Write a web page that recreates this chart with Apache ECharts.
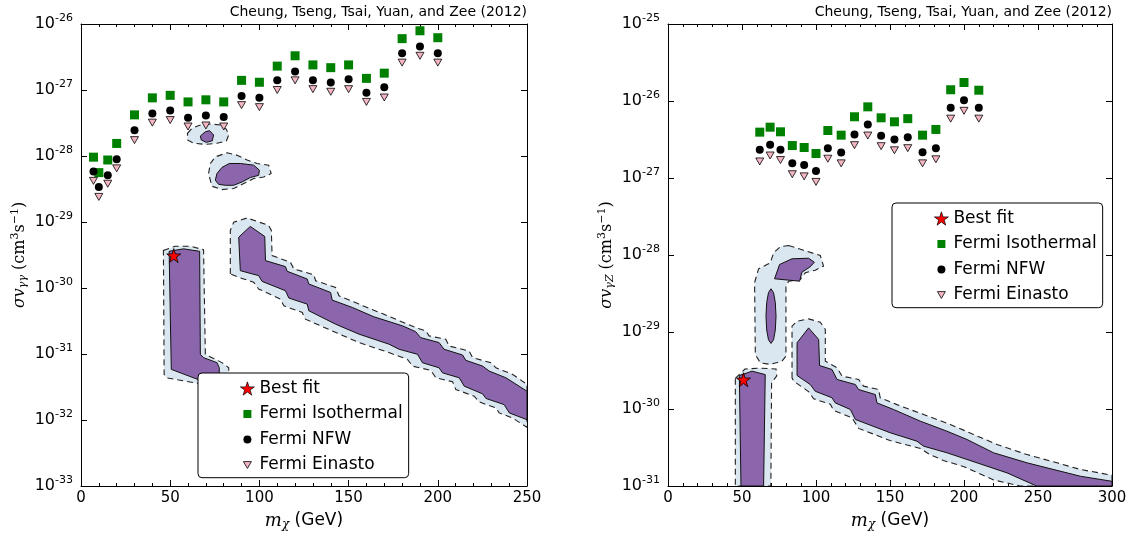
<!DOCTYPE html>
<html><head><meta charset="utf-8">
<script src="https://cdn.jsdelivr.net/npm/echarts@6/dist/echarts.min.js"></script>
<style>html,body{margin:0;padding:0;background:#fff}#c{width:1133px;height:536px}#err{position:absolute;left:300px;top:100px;font:12px monospace;color:red;width:700px;white-space:pre-wrap}</style>
</head><body><div id="c"></div><div id="err"></div>
<script>
window.onerror = function(m, s, l, c, e){ document.getElementById('err').textContent += m + ' @' + l + ':' + c + '\n'; };
const titleText = 'Cheung, Tseng, Tsai, Yuan, and Zee (2012)';
const legendNames = ['Best fit', 'Fermi Isothermal', 'Fermi NFW', 'Fermi Einasto'];

// ---------- Left panel (gamma gamma) ----------
const massL = [7,10,15,20,30,40,50,60,70,80,90,100,110,120,130,140,150,160,170,180,190,200];
const isoL = [9.6e-29,5.6e-29,8.7e-29,1.55e-28,4.2e-28,7.6e-28,8.3e-28,6.6e-28,7.1e-28,6.6e-28,1.4e-27,1.31e-27,2.3e-27,3.3e-27,2.4e-27,2.18e-27,2.4e-27,1.5e-27,1.8e-27,6.0e-27,7.9e-27,6.2e-27];
const nfwL = [5.8e-29,3.4e-29,5.1e-29,8.9e-29,2.46e-28,4.4e-28,4.9e-28,3.8e-28,4.1e-28,3.9e-28,8.1e-28,7.6e-28,1.4e-27,1.9e-27,1.4e-27,1.3e-27,1.45e-27,9.1e-28,1.1e-27,3.6e-27,4.55e-27,3.6e-27];
const einL = [4.2e-29,2.4e-29,3.8e-29,6.5e-29,1.74e-28,3.2e-28,3.5e-28,2.8e-28,2.9e-28,2.8e-28,5.9e-28,5.5e-28,1.0e-27,1.4e-27,1.03e-27,9.4e-28,1.03e-27,6.6e-28,7.7e-28,2.6e-27,3.3e-27,2.6e-27];
const bestL = [52, 3.1e-30];
const yExpLabelsL = ['-33','-32','-31','-30','-29','-28','-27','-26'];

const outerL = [
  [[59.7,2.21e-28],[62.2,2.63e-28],[66.9,2.95e-28],[72.5,3.06e-28],[78.1,2.95e-28],[81.5,2.54e-28],[82.8,2.08e-28],[81.5,1.69e-28],[76.2,1.56e-28],[69.7,1.5e-28],[63.1,1.56e-28],[59.7,1.75e-28]],
  [[71.5,5.43e-29],[72.5,7.7e-29],[75.3,9.7e-29],[81.9,1.12e-28],[87.5,1.03e-28],[93.1,8.7e-29],[98.7,7.7e-29],[105.2,7.27e-29],[106.6,5.43e-29],[102.4,4.8e-29],[96.8,4.56e-29],[91.2,3.83e-29],[85.6,3.21e-29],[79.0,3.1e-29],[73.4,3.48e-29]],
  [[46.2,3.7e-30],[52.8,4.3e-30],[61.2,4.3e-30],[68.7,3.8e-30],[69.7,9.9e-32],[73.4,8.8e-32],[79,7.4e-32],[82.8,6.2e-32],[82.8,3.0e-32],[64,3.65e-32],[48.1,4.35e-32],[46.6,4.9e-32]],
  [[83.7,1.63e-30],[83.7,7.44e-30],[85.6,9.95e-30],[93.1,1.15e-29],[105.2,8.87e-30],[106.7,7.44e-30],[107.1,3.1e-30],[117.4,2.45e-30],[119.3,1.95e-30],[130.5,1.59e-30],[131.5,1.29e-30],[142.7,1.02e-30],[144.6,7.63e-31],[155.8,5.7e-31],[168.9,4.1e-31],[187.6,2.51e-31],[193.3,2.24e-31],[195.1,1.88e-31],[204.5,1.67e-31],[206.3,1.32e-31],[217.6,1.11e-31],[219.5,8.8e-32],[229.8,7.38e-32],[232.6,6.18e-32],[242.0,4.9e-32],[250,3.46e-32],[250,7.74e-33],[242.0,1.07e-32],[234.4,1.28e-32],[232.6,1.52e-32],[223.2,1.88e-32],[220.4,2.3e-32],[210.1,2.9e-32],[208.3,3.79e-32],[198.9,4.36e-32],[196.1,5.65e-32],[185.8,6.56e-32],[183.0,8.3e-32],[172.6,1.05e-31],[155.8,1.49e-31],[140.8,2.24e-31],[125.8,3.37e-31],[124.0,4.26e-31],[113.7,5.38e-31],[111.8,6.8e-31],[99.6,9.66e-31],[96.8,1.22e-30],[88.4,1.45e-30]]
];
const innerL = [
  [[66.9,2.01e-28],[69.7,2.33e-28],[72.1,2.42e-28],[74.3,2.08e-28],[73.6,1.7e-28],[70.2,1.61e-28],[67.4,1.75e-28]],
  [[75.3,4.3e-29],[76.2,5.43e-29],[79.0,6.7e-29],[83.1,7.7e-29],[89.3,7.7e-29],[96.8,7.27e-29],[100.0,6.1e-29],[99.6,5.1e-29],[94.9,4.72e-29],[90.3,4.05e-29],[85.6,3.6e-29],[80.9,3.6e-29],[77.1,3.73e-29]],
  [[49.4,3.6e-30],[57.5,3.92e-30],[66.5,3.6e-30],[66.9,9.9e-32],[68.7,8.8e-32],[76.2,7.4e-32],[77.5,6.2e-32],[77.5,3.1e-32],[50.6,5.85e-32]],
  [[89.3,1.83e-30],[88.4,5.89e-30],[94.9,8.57e-30],[103.0,6.04e-30],[103.4,2.6e-30],[114.6,2.11e-30],[115.6,1.79e-30],[126.8,1.37e-30],[127.7,1.15e-30],[139.9,8.57e-31],[140.8,6.56e-31],[152.1,5.07e-31],[164.2,3.66e-31],[180.2,2.67e-31],[187.6,2.18e-31],[190.4,1.77e-31],[200.7,1.49e-31],[203.5,1.18e-31],[213.9,9.66e-32],[215.7,8.02e-32],[225.1,6.56e-32],[228.8,5.51e-32],[238.2,4.36e-32],[250,2.73e-32],[250,1.01e-32],[240.1,1.28e-32],[237.2,1.71e-32],[227.0,2.12e-32],[225.1,2.49e-32],[214.8,3.26e-32],[212.0,4.36e-32],[202.6,5.19e-32],[200.7,6.18e-32],[191.4,7.37e-32],[188.6,9.9e-32],[178.3,1.18e-31],[172.6,1.41e-31],[155.8,2.0e-31],[142.7,2.83e-31],[127.7,4.52e-31],[126.8,5.7e-31],[116.5,7.04e-31],[114.6,9.1e-31],[101.5,1.26e-30],[99.6,1.54e-30]]
];

// ---------- Right panel (gamma Z) ----------
const massR = [62,69,76,84,92,100,108,117,126,135,144,153,162,172,181,191,200,210];
const isoR = [3.94e-27,4.57e-27,3.98e-27,2.64e-27,2.49e-27,2.08e-27,4.14e-27,3.6e-27,6.24e-27,8.4e-27,6.05e-27,5.37e-27,5.9e-27,3.6e-27,4.27e-27,1.4e-26,1.74e-26,1.38e-26];
const nfwR = [2.32e-27,2.7e-27,2.32e-27,1.56e-27,1.47e-27,1.23e-27,2.44e-27,2.14e-27,3.67e-27,4.95e-27,3.53e-27,3.16e-27,3.39e-27,2.16e-27,2.44e-27,8.2e-27,1.02e-26,8.2e-27];
const einR = [1.64e-27,1.96e-27,1.71e-27,1.12e-27,1.05e-27,8.9e-28,1.78e-27,1.55e-27,2.67e-27,3.56e-27,2.59e-27,2.29e-27,2.44e-27,1.55e-27,1.75e-27,5.9e-27,7.46e-27,5.9e-27];
const bestR = [51, 2.4e-30];
const yExpLabelsR = ['-31','-30','-29','-28','-27','-26','-25'];

const outerR = [
  [[81.5,1.33e-28],[91.6,1.15e-28],[102.9,9.86e-29],[105.1,7.16e-29],[99.5,6.35e-29],[92.8,5.87e-29],[89.4,4.81e-29],[81.5,4.57e-29],[79.7,3.94e-29],[79.7,4.85e-30],[77.0,4.18e-30],[69.1,3.79e-30],[62.4,3.98e-30],[59.0,5.1e-30],[58.5,4.36e-29],[61.2,6.62e-29],[69.1,7.92e-29],[71.4,1.07e-28],[75.9,1.28e-28]],
  [[45.5,2.5e-30],[52,3.3e-30],[62,3.4e-30],[73,3.3e-30],[73.5,2.7e-30],[70,2.2e-30],[69.5,1e-31],[45.5,1e-31]],
  [[83.8,2.54e-30],[83.8,1.19e-29],[87.2,1.38e-29],[95.0,1.48e-29],[102.9,1.34e-29],[106.3,1.08e-29],[106.3,4.18e-30],[114.2,3.43e-30],[117.6,2.67e-30],[128.8,2.42e-30],[132.2,1.98e-30],[142.3,1.79e-30],[143.4,1.4e-30],[154.7,1.14e-30],[172.7,8.49e-31],[190.7,6.3e-31],[206.5,4.67e-31],[222.3,3.46e-31],[242.6,2.56e-31],[262.8,2.0e-31],[278.6,1.64e-31],[300,1.38e-31],[300,1e-31],[238,1e-31],[220,1.2e-31],[200,1.78e-31],[186,2.15e-31],[176,2.62e-31],[171,3.05e-31],[150,3.9e-31],[128.8,5.6e-31],[124.3,7.7e-31],[111.9,9.6e-31],[109.7,1.15e-30],[98.4,1.36e-30],[95,1.68e-30],[84.9,2.3e-30]]
];
const innerR = [
  [[72.0,4.91e-29],[75.4,7.53e-29],[83.8,8.93e-29],[95.0,9.08e-29],[98.9,8.05e-29],[96.1,7.03e-29],[90.5,5.98e-29],[88.9,4.57e-29]],
  [[69.6,3.64e-29],[71.3,3.25e-29],[72.5,2.42e-29],[73.0,1.6e-29],[72.5,1.06e-29],[71.3,7.92e-30],[69.6,7.1e-30],[67.9,7.92e-30],[66.7,1.06e-29],[66.2,1.6e-29],[66.7,2.42e-29],[67.9,3.25e-29]],
  [[48.2,2.72e-30],[56.8,3.1e-30],[65.7,2.8e-30],[64.6,1e-31],[49.3,1e-31]],
  [[87.2,2.72e-30],[87.2,7.24e-30],[95.0,1.13e-29],[101.8,8.0e-30],[102.4,3.67e-30],[110.8,3.26e-30],[114.2,2.42e-30],[126.6,2.08e-30],[128.8,1.79e-30],[140.1,1.54e-30],[141.2,1.2e-30],[152.4,9.86e-31],[170.5,6.95e-31],[188.5,5.15e-31],[202.0,4.02e-31],[220.0,2.7e-31],[242.6,2.0e-31],[256.1,1.72e-31],[278.6,1.34e-31],[300,1.15e-31],[300,1e-31],[249,1e-31],[229.1,1.48e-31],[202.0,2.21e-31],[188.5,2.7e-31],[172.7,3.29e-31],[168.2,3.82e-31],[150.2,4.91e-31],[126.6,7.31e-31],[123.2,9.86e-31],[113.0,1.2e-30],[110.8,1.4e-30],[99.5,1.7e-30],[96.1,2.08e-30]]
];

// ---------- styling ----------
const FONT = 'DejaVu Sans';
const SERIF = 'DejaVu Serif';
const PURPLE = '#8b66ad';
const LIGHT = '#dae6f0';
const STAR = 'path://M50,0 L61.2,34.5 L97.6,34.5 L68.2,55.9 L79.4,90.5 L50,69.1 L20.6,90.5 L31.8,55.9 L2.4,34.5 L38.8,34.5 Z';
const TRI_DOWN = 'path://M0,0 L10,0 L5,8.66 Z';
// legend icons: glyph inside a 14x14 box (corner moves only set the box)
const ICON_SQ = 'path://M0,0 L0,0 M14,14 L14,14 M3,3 L11,3 L11,11 L3,11 Z';
const ICON_CI = 'path://M0,0 L0,0 M14,14 L14,14 M3,7 A4,4 0 1,0 11,7 A4,4 0 1,0 3,7 Z';
const ICON_TR = 'path://M0,0 L0,0 M14,14 L14,14 M3,3.6 L11,3.6 L7,10.4 Z';

const chart = echarts.init(document.getElementById('c'), null, {renderer: 'canvas'});

function polySeries(polys, gi, fill, stroke, dash, lw, z) {
  return {
    type: 'custom', xAxisIndex: gi * 2, yAxisIndex: gi * 3, z: z, clip: true, silent: true,
    data: polys.map(p => p[0]),
    renderItem: function (params, api) {
      const pts = polys[params.dataIndex].map(v => api.coord(v));
      return {type: 'polygon', shape: {points: pts},
        style: {fill: fill, stroke: stroke, lineWidth: lw, lineDash: dash}};
    }
  };
}
function pts(xs, ys) { return xs.map((x, i) => [x, ys[i]]); }

function scatterSet(gi, mass, iso, nfw, ein, best) {
  const ax = {xAxisIndex: gi * 2, yAxisIndex: gi * 3};
  return [
    Object.assign({type: 'scatter', name: 'Fermi Isothermal', data: pts(mass, iso), symbol: 'rect', symbolSize: 9,
      itemStyle: {color: '#008000', opacity: 1}, z: 5}, ax),
    Object.assign({type: 'scatter', name: 'Fermi NFW', data: pts(mass, nfw), symbol: 'circle', symbolSize: 8,
      itemStyle: {color: '#000', opacity: 1}, z: 5}, ax),
    Object.assign({type: 'scatter', name: 'Fermi Einasto', data: pts(mass, ein), symbol: TRI_DOWN, symbolSize: [8, 7],
      itemStyle: {color: '#f4b6c2', borderColor: '#000', borderWidth: 0.8, opacity: 1}, z: 5}, ax),
    Object.assign({type: 'scatter', name: 'Best fit', data: [best], symbol: STAR, symbolSize: 14,
      itemStyle: {color: '#ff0000', borderColor: '#000', borderWidth: 0.8, opacity: 1}, z: 6}, ax)
  ];
}

const tickRich = {
  b: {fontSize: 16, fontFamily: FONT, color: '#000', lineHeight: 22},
  s: {fontSize: 11, fontFamily: FONT, color: '#000', verticalAlign: 'top', lineHeight: 12}
};

function xAxes(gi, max) {
  const base = {type: 'value', gridIndex: gi, min: 0, max: max, interval: 50,
    axisLine: {show: true, onZero: false, lineStyle: {color: '#000', width: 1}},
    axisTick: {show: true, inside: true, length: 6, lineStyle: {color: '#000'}},
    minorTick: {show: true, splitNumber: 5, length: 3, lineStyle: {color: '#000'}},
    splitLine: {show: false}, minorSplitLine: {show: false}};
  return [
    Object.assign({}, base, {position: 'bottom',
      axisLabel: {show: true, fontSize: 15, fontFamily: FONT, color: '#000', margin: 5},
      name: '{i|m}{sub|χ}{t| (GeV)}', nameLocation: 'middle', nameGap: 25,
      nameTextStyle: {rich: {
        i: {fontFamily: SERIF, fontStyle: 'italic', fontSize: 18, color: '#000'},
        sub: {fontFamily: SERIF, fontStyle: 'italic', fontSize: 12, color: '#000', verticalAlign: 'bottom', padding: [8, 0, 0, 0]},
        t: {fontFamily: FONT, fontSize: 17, color: '#000'}}}}),
    Object.assign({}, base, {position: 'top', axisLabel: {show: false}})
  ];
}
function yAxes(gi, min, max, expLabels, subTxt) {
  const base = {type: 'log', logBase: 10, gridIndex: gi, min: min, max: max,
    axisLine: {show: true, onZero: false, lineStyle: {color: '#000', width: 1}},
    axisTick: {show: true, inside: true, length: 6, lineStyle: {color: '#000'}},
    minorTick: {show: true, splitNumber: 9, length: 3, lineStyle: {color: '#000'}},
    axisLabel: {show: false},
    splitLine: {show: false}, minorSplitLine: {show: false}};
  const eMin = Math.round(Math.log10(min)), eMax = Math.round(Math.log10(max));
  return [
    Object.assign({}, base, {position: 'left'}),
    Object.assign({}, base, {position: 'right'}),
    {type: 'value', gridIndex: gi, position: 'left', min: eMin, max: eMax, interval: 1,
      axisLine: {show: false}, axisTick: {show: false}, splitLine: {show: false},
      axisLabel: {show: true, margin: 8, rich: tickRich,
        formatter: function (v) { return '{b|10}{s|' + expLabels[Math.round(v - eMin)] + '}'; }},
      name: '{a|σv}{sub|' + subTxt + '}{n| (cm}{sup|3}{n|s}{sup|−1}{n|)}', nameLocation: 'middle', nameGap: 52,
      nameTextStyle: {rich: {
        a: {fontFamily: SERIF, fontStyle: 'italic', fontSize: 16, color: '#000'},
        sub: {fontFamily: SERIF, fontStyle: 'italic', fontSize: 11, color: '#000', verticalAlign: 'bottom', padding: [8, 0, 0, 0]},
        n: {fontFamily: SERIF, fontSize: 16, color: '#000'},
        sup: {fontFamily: SERIF, fontSize: 11, color: '#000', verticalAlign: 'top', padding: [0, 0, 8, 0]}}}}
  ];
}

function legendFor(left, top) {
  return {
    data: [
      {name: 'Best fit', icon: STAR, itemStyle: {color: '#ff0000', borderColor: '#000', borderWidth: 0.7}},
      {name: 'Fermi Isothermal', icon: ICON_SQ, itemStyle: {color: '#008000', borderWidth: 0}},
      {name: 'Fermi NFW', icon: ICON_CI, itemStyle: {color: '#000', borderWidth: 0}},
      {name: 'Fermi Einasto', icon: ICON_TR, itemStyle: {color: '#f4b6c2', borderColor: '#000', borderWidth: 0.8}}
    ],
    orient: 'vertical', left: left, top: top, padding: [5.5, 6, 2.7, 42], itemGap: 5.5,
    itemWidth: 14, itemHeight: 14, selectedMode: false,
    backgroundColor: '#fff', borderColor: '#000', borderWidth: 1, borderRadius: 4,
    textStyle: {fontSize: 17, fontFamily: FONT, color: '#000', lineHeight: 20}
  };
}

const option = {
  animation: false,
  backgroundColor: '#fff',
  title: [
    {text: titleText, right: 606, top: 5, padding: 0, textStyle: {fontSize: 14, fontWeight: 'normal', fontFamily: FONT, color: '#000'}},
    {text: titleText, right: 21, top: 5, padding: 0, textStyle: {fontSize: 14, fontWeight: 'normal', fontFamily: FONT, color: '#000'}}
  ],
  grid: [
    {left: 81, top: 24, width: 446, height: 462, containLabel: false, outerBoundsMode: 'none'},
    {left: 668, top: 24, width: 444, height: 462, containLabel: false, outerBoundsMode: 'none'}
  ],
  xAxis: [].concat(xAxes(0, 250), xAxes(1, 300)),
  yAxis: [].concat(yAxes(0, 1e-33, 1e-26, yExpLabelsL, 'γγ'), yAxes(1, 1e-31, 1e-25, yExpLabelsR, 'γZ')),
  legend: [legendFor(198, 373), legendFor(892, 203)],
  series: [
    polySeries(outerL, 0, LIGHT, '#222', [6, 4], 1.1, 1),
    polySeries(innerL, 0, PURPLE, '#111', null, 1, 2),
    polySeries(outerR, 1, LIGHT, '#222', [6, 4], 1.1, 1),
    polySeries(innerR, 1, PURPLE, '#111', null, 1, 2)
  ].concat(scatterSet(0, massL, isoL, nfwL, einL, bestL), scatterSet(1, massR, isoR, nfwR, einR, bestR))
};
try { chart.setOption(option); } catch (e) { document.getElementById('err').textContent += 'caught: ' + e.message; }
</script></body></html>
